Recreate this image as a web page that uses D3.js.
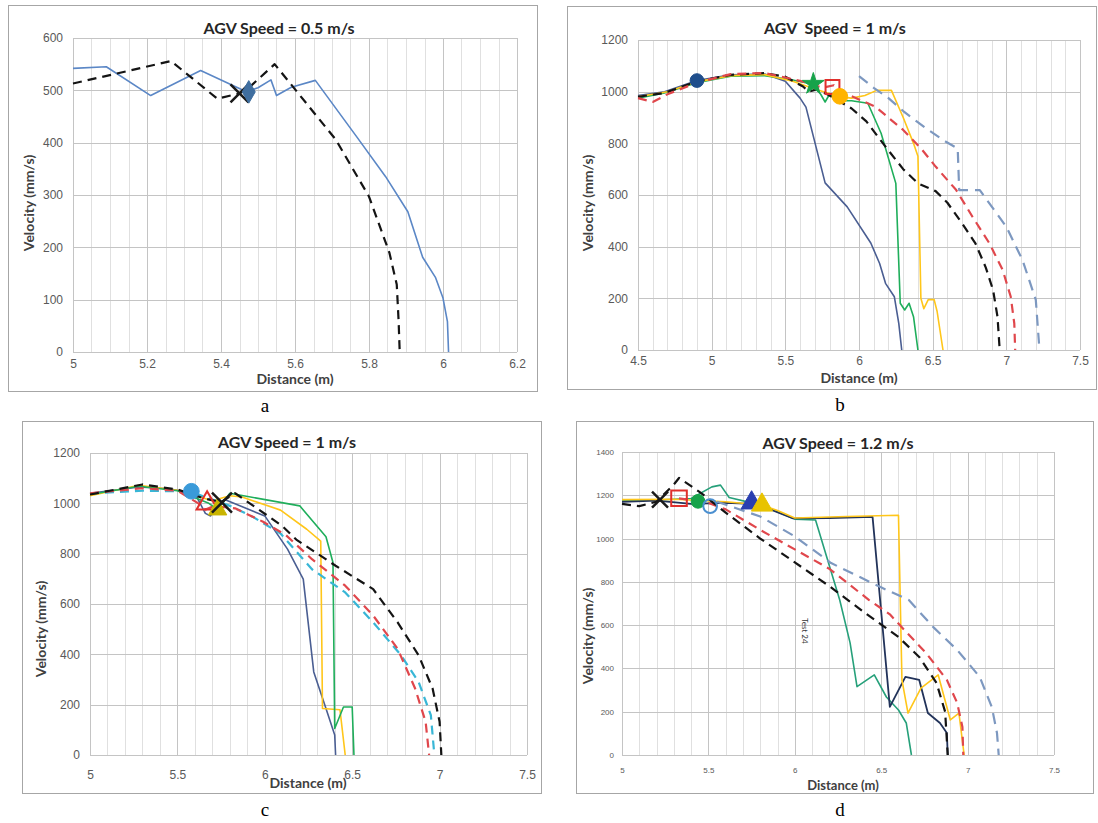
<!DOCTYPE html>
<html>
<head>
<meta charset="utf-8">
<script src="https://cdn.jsdelivr.net/npm/d3@7"></script>
<style>
  body { margin: 0; background: #fff; }
  svg { display: block; font-family: Lato, "Open Sans", sans-serif; }
  .title { font-weight: bold; fill: #262626; white-space: pre; }
  .axtitle { font-weight: bold; fill: #404040; }
  .tick text { fill: #595959; }
  .sub { font-family: "Liberation Serif", "DejaVu Serif", serif; fill: #000; }
</style>
</head>
<body>
<svg id="fig" width="1098" height="823"></svg>
<script>
// ---- panel a : AGV speed 0.5 m/s ----
const aTicksX = [5, 5.2, 5.4, 5.6, 5.8, 6, 6.2];
const aTicksY = [0, 100, 200, 300, 400, 500, 600];
const aBlue  = [[5.0,542],[5.09,545],[5.21,490],[5.345,538],[5.47,497],[5.50,505],[5.535,520],[5.55,490],[5.59,506],[5.655,519],[5.765,413],[5.845,335],[5.905,268],[5.945,181],[5.98,142],[6.0,103],[6.012,58],[6.015,0]];
const aBlack = [[5.0,513],[5.265,556],[5.39,484],[5.45,494],[5.48,508],[5.545,550],[5.71,406],[5.8,297],[5.855,190],[5.875,129],[5.88,60],[5.883,0]];
const aMarks = [[5.45,494],[5.475,497]];

// ---- panel b : AGV speed 1 m/s ----
const bTicksX = [4.5, 5, 5.5, 6, 6.5, 7, 7.5];
const bTicksY = [0, 200, 400, 600, 800, 1000, 1200];
const bNavy   = [[4.5,985],[4.68,1000],[4.9,1043],[5.13,1065],[5.36,1068],[5.5,1040],[5.6,975],[5.64,940],[5.77,647],[5.92,554],[6.08,414],[6.14,335],[6.18,258],[6.24,206],[6.27,103],[6.29,0]];
const bGreen  = [[4.5,975],[4.68,995],[4.9,1035],[5.13,1060],[5.36,1062],[5.55,1045],[5.68,1030],[5.74,990],[5.77,960],[5.8,990],[5.86,965],[5.95,965],[6.06,955],[6.15,839],[6.25,645],[6.28,181],[6.31,155],[6.34,181],[6.37,129],[6.40,0]];
const bYellow = [[4.5,980],[4.7,1000],[4.9,1038],[5.13,1062],[5.36,1066],[5.55,1040],[5.7,1010],[5.87,980],[5.95,975],[6.04,985],[6.12,1005],[6.22,1005],[6.3,900],[6.37,800],[6.4,750],[6.42,200],[6.44,160],[6.47,195],[6.51,195],[6.53,150],[6.57,0]];
const bBlack  = [[4.5,980],[4.68,995],[4.9,1040],[5.13,1065],[5.36,1072],[5.5,1058],[5.62,1020],[5.66,1000],[5.72,1010],[5.8,985],[5.95,935],[6.05,885],[6.18,787],[6.3,700],[6.4,645],[6.52,615],[6.6,570],[6.7,490],[6.79,413],[6.86,320],[6.91,232],[6.94,129],[6.955,0]];
const bRed    = [[4.5,975],[4.6,960],[4.7,990],[4.9,1035],[5.13,1068],[5.36,1072],[5.5,1055],[5.65,1035],[5.75,1015],[5.83,1025],[5.9,995],[6.0,970],[6.11,942],[6.3,852],[6.43,774],[6.52,710],[6.66,619],[6.77,516],[6.885,413],[6.975,310],[7.03,206],[7.054,103],[7.06,0]];
const bSteel  = [[6.0,1060],[6.1,1015],[6.2,975],[6.3,925],[6.45,860],[6.59,806],[6.67,780],[6.68,619],[6.82,619],[7.0,477],[7.11,348],[7.2,194],[7.225,0]];
const bMarks  = [[4.9,1043],[5.69,1030],[5.82,1018],[5.87,982]];

// ---- panel c : AGV speed 1 m/s ----
const cTicksX = [5, 5.5, 6, 6.5, 7, 7.5];
const cTicksY = [0, 200, 400, 600, 800, 1000, 1200];
const cNavy   = [[5.0,1040],[5.28,1065],[5.45,1058],[5.6,1040],[5.66,960],[5.69,950],[5.72,990],[5.77,1015],[6.0,950],[6.13,818],[6.22,699],[6.28,330],[6.35,185],[6.4,79],[6.405,0]];
const cYellow = [[5.0,1030],[5.28,1072],[5.5,1052],[5.7,1010],[5.8,1030],[5.87,1025],[6.09,973],[6.24,897],[6.32,850],[6.33,185],[6.43,180],[6.46,0]];
const cGreen  = [[5.0,1035],[5.28,1068],[5.5,1050],[5.68,1000],[5.73,975],[5.8,1040],[6.2,990],[6.35,867],[6.39,765],[6.40,105],[6.45,191],[6.5,191],[6.51,0]];
const cBlack  = [[5.0,1035],[5.3,1075],[5.5,1055],[5.65,1020],[5.75,1005],[5.83,1040],[5.97,973],[6.1,910],[6.18,856],[6.405,752],[6.62,659],[6.76,527],[6.88,396],[6.96,264],[7.0,132],[7.01,0]];
const cRed    = [[5.0,1040],[5.3,1060],[5.5,1050],[5.62,1000],[5.66,975],[5.71,989],[5.83,980],[5.99,927],[6.12,874],[6.27,778],[6.46,673],[6.62,554],[6.76,422],[6.86,264],[6.92,132],[6.94,0]];
const cCyan   = [[5.0,1040],[5.3,1050],[5.5,1048],[5.6,1040],[5.8,990],[5.93,947],[6.09,880],[6.27,738],[6.46,646],[6.62,527],[6.78,396],[6.88,290],[6.95,158],[6.97,0]];
const cMarks  = [[5.58,1048],[5.67,1000],[5.73,975],[5.755,1003]];

// ---- panel d : AGV speed 1.2 m/s ----
const dTicksX = [5, 5.5, 6, 6.5, 7, 7.5];
const dTicksY = [0, 200, 400, 600, 800, 1000, 1200, 1400];
const dNavy   = [[5.0,1170],[5.2,1175],[5.4,1160],[5.6,1165],[5.75,1160],[5.84,1140],[5.99,1093],[6.2,1095],[6.45,1100],[6.55,222],[6.64,361],[6.72,347],[6.77,194],[6.84,148],[6.88,102],[6.885,0]];
const dYellow = [[5.0,1180],[5.3,1182],[5.6,1170],[5.81,1155],[5.9,1130],[6.0,1095],[6.3,1102],[6.6,1108],[6.62,347],[6.655,193],[6.73,309],[6.83,370],[6.9,162],[6.95,193],[6.98,0]];
const dTeal   = [[5.0,1175],[5.2,1178],[5.4,1185],[5.52,1239],[5.57,1247],[5.62,1190],[5.75,1165],[5.85,1140],[6.0,1090],[6.12,1086],[6.26,716],[6.32,518],[6.36,316],[6.46,370],[6.53,268],[6.6,208],[6.645,148],[6.675,0]];
const dBlack  = [[5.0,1160],[5.1,1150],[5.2,1170],[5.3,1250],[5.33,1280],[5.45,1215],[5.6,1120],[5.8,1000],[6.0,890],[6.2,780],[6.4,660],[6.6,545],[6.72,453],[6.82,333],[6.87,200],[6.885,0]];
const dRed    = [[5.33,1186],[5.5,1165],[5.6,1135],[5.8,1040],[6.0,950],[6.2,860],[6.43,716],[6.55,650],[6.65,564],[6.76,471],[6.88,347],[6.94,240],[6.97,129],[6.975,0]];
const dSteel  = [[5.55,1170],[5.8,1102],[6.0,1010],[6.21,887],[6.49,778],[6.66,716],[6.8,592],[6.94,485],[7.07,361],[7.14,222],[7.17,102],[7.18,0]];
const dMarks  = [[5.22,1180],[5.33,1186],[5.44,1172],[5.51,1150],[5.75,1165],[5.81,1155]];

// line looks
const looks = {
  blueA:  { stroke: "#5b87c6", w: 1.6, dash: null },
  navy:   { stroke: "#4a5e92", w: 1.6, dash: null },
  navyD:  { stroke: "#22335a", w: 1.8, dash: null },
  green:  { stroke: "#1fae5b", w: 1.6, dash: null },
  teal:   { stroke: "#26a07a", w: 1.6, dash: null },
  yellow: { stroke: "#ffc61a", w: 1.6, dash: null },
  black:  { stroke: "#141414", w: 2.2, dash: "9,6" },
  red:    { stroke: "#e0474c", w: 2.2, dash: "9,6" },
  steel:  { stroke: "#7d98c0", w: 2.2, dash: "11,7" },
  cyan:   { stroke: "#38b6d6", w: 2.2, dash: "9,6" }
};

const svg = d3.select("#fig");

const panels = [
  { frame: [8, 5, 537, 391], xDom: [5, 6.2], xR: [73, 517], yDom: [0, 600], yR: [352, 38],
    xTicks: aTicksX, yTicks: aTicksY, xMinor: 0.05, fs: 12, xfs: 14,
    title: "AGV Speed = 0.5 m/s", tX: 279, tY: 34,
    yTitle: [29, 203], xTitle: [295, 384], xLabY: 368, sub: ["a", 265, 412],
    series: [[aBlue, "blueA"], [aBlack, "black"]],
    marks: [["x", "#1a1a1a", 9], ["diamond", "#3f6e9f", 7]].map((m, i) => [aMarks[i], ...m]) },
  { frame: [567, 6, 1096, 389], xDom: [4.5, 7.5], xR: [638, 1080], yDom: [0, 1200], yR: [350, 40],
    xTicks: bTicksX, yTicks: bTicksY, xMinor: 0.1, fs: 12, xfs: 14,
    title: "AGV  Speed = 1 m/s", tX: 835, tY: 34,
    yTitle: [588, 203], xTitle: [859, 383], xLabY: 365, sub: ["b", 840, 411],
    series: [[bNavy, "navy"], [bGreen, "green"], [bYellow, "yellow"], [bBlack, "black"], [bRed, "red"], [bSteel, "steel"]],
    marks: [["circle", "#1f4e8c", 7], ["star", "#17a34a", 7], ["square", "#e0302c", 8], ["circle", "#ffb300", 8]].map((m, i) => [bMarks[i], ...m]) },
  { frame: [22, 421, 541, 793], xDom: [5, 7.5], xR: [90, 527], yDom: [0, 1200], yR: [755, 453],
    xTicks: cTicksX, yTicks: cTicksY, xMinor: 0.1, fs: 12, xfs: 14,
    title: "AGV Speed = 1 m/s", tX: 287, tY: 448,
    yTitle: [41, 629], xTitle: [308, 788], xLabY: 779, sub: ["c", 265, 816],
    series: [[cNavy, "navy"], [cYellow, "yellow"], [cGreen, "green"], [cCyan, "cyan"], [cRed, "red"], [cBlack, "black"]],
    marks: [["circle", "#3a9ad9", 8], ["tri", "#e0302c", 8], ["triF", "#c9b400", 7], ["x", "#1a1a1a", 10]].map((m, i) => [cMarks[i], ...m]) },
  { frame: [576, 421, 1093, 793], xDom: [5, 7.5], xR: [622, 1054], yDom: [0, 1400], yR: [755, 452],
    xTicks: dTicksX, yTicks: dTicksY, xMinor: 0.1, fs: 8, xfs: 13,
    title: "AGV Speed = 1.2 m/s", tX: 838, tY: 449,
    yTitle: [588, 636], xTitle: [843, 790], xLabY: 773, sub: ["d", 840, 816],
    series: [[dTeal, "teal"], [dNavy, "navyD"], [dYellow, "yellow"], [dSteel, "steel"], [dRed, "red"], [dBlack, "black"]],
    marks: [["x", "#1a1a1a", 8], ["square", "#e0302c", 9], ["circle", "#17a34a", 7], ["circleO", "#4a8fd0", 7], ["triF", "#2a3fb0", 8], ["triF", "#e8c300", 8]].map((m, i) => [dMarks[i], ...m]) }
];

function drawMark(g, px, py, shape, color, s) {
  if (shape === "x") {
    g.append("path").attr("d", `M${px-s},${py-s}L${px+s},${py+s}M${px-s},${py+s}L${px+s},${py-s}`)
      .attr("stroke", color).attr("stroke-width", 2.5).attr("fill", "none");
    return;
  }
  const kinds = { circle: d3.symbolCircle, circleO: d3.symbolCircle, square: d3.symbolSquare,
                  star: d3.symbolStar, diamond: d3.symbolDiamond, tri: d3.symbolTriangle, triF: d3.symbolTriangle };
  const open = shape === "square" || shape === "tri" || shape === "circleO";
  g.append("path").attr("transform", `translate(${px},${py})`)
    .attr("d", d3.symbol().type(kinds[shape]).size(s * s * 3)())
    .attr("fill", open ? "none" : color).attr("stroke", color).attr("stroke-width", open ? 2 : 1);
}

panels.forEach(p => {
  const g = svg.append("g");
  const [fx0, fy0, fx1, fy1] = p.frame;
  g.append("rect").attr("x", fx0 + 0.5).attr("y", fy0 + 0.5).attr("width", fx1 - fx0).attr("height", fy1 - fy0)
    .attr("fill", "#fff").attr("stroke", "#a6a6a6");

  const x = d3.scaleLinear().domain(p.xDom).range(p.xR);
  const y = d3.scaleLinear().domain(p.yDom).range(p.yR);

  // minor + major vertical grid, major horizontal grid
  const minor = d3.range(p.xDom[0], p.xDom[1] + 1e-9, p.xMinor);
  g.append("g").selectAll("line").data(minor).join("line")
    .attr("x1", d => Math.round(x(d)) + 0.5).attr("x2", d => Math.round(x(d)) + 0.5)
    .attr("y1", p.yR[1]).attr("y2", p.yR[0]).attr("stroke", "#e0e0e0");
  g.append("g").selectAll("line").data(p.xTicks).join("line")
    .attr("x1", d => Math.round(x(d)) + 0.5).attr("x2", d => Math.round(x(d)) + 0.5)
    .attr("y1", p.yR[1]).attr("y2", p.yR[0]).attr("stroke", "#c4c4c4");
  g.append("g").selectAll("line").data(p.yTicks).join("line")
    .attr("x1", p.xR[0]).attr("x2", p.xR[1])
    .attr("y1", d => Math.round(y(d)) + 0.5).attr("y2", d => Math.round(y(d)) + 0.5)
    .attr("stroke", "#c4c4c4");

  // tick labels
  const ya = g.append("g").attr("transform", `translate(${p.xR[0]},0)`)
    .call(d3.axisLeft(y).tickValues(p.yTicks).tickSize(0).tickPadding(p.fs > 10 ? 10 : 8).tickFormat(d3.format("")));
  ya.select(".domain").remove();
  ya.selectAll("text").attr("font-size", p.fs).attr("font-family", null);
  const xa = g.append("g").attr("transform", `translate(0,${p.xLabY})`)
    .call(d3.axisBottom(x).tickValues(p.xTicks).tickSize(0).tickPadding(0).tickFormat(d3.format("")));
  xa.select(".domain").remove();
  xa.selectAll("text").attr("font-size", p.fs).attr("font-family", null).attr("dy", 0);

  // series
  const line = d3.line().x(d => x(d[0])).y(d => y(d[1]));
  p.series.forEach(([data, key]) => {
    const lk = looks[key];
    g.append("path").datum(data).attr("d", line).attr("fill", "none")
      .attr("stroke", lk.stroke).attr("stroke-width", lk.w)
      .attr("stroke-dasharray", lk.dash).attr("stroke-linejoin", "round");
  });
  p.marks.forEach(([pt, shape, color, s]) => drawMark(g, x(pt[0]), y(pt[1]), shape, color, s));

  // texts
  g.append("text").attr("class", "title").attr("x", p.tX).attr("y", p.tY)
    .attr("text-anchor", "middle").attr("font-size", 16).text(p.title);
  g.append("text").attr("class", "axtitle").attr("text-anchor", "middle").attr("font-size", 14)
    .attr("transform", `translate(${p.yTitle[0] + 5},${p.yTitle[1]}) rotate(-90)`).text("Velocity (mm/s)");
  g.append("text").attr("class", "axtitle").attr("text-anchor", "middle").attr("font-size", p.xfs)
    .attr("x", p.xTitle[0]).attr("y", p.xTitle[1]).text("Distance (m)");
  svg.append("text").attr("class", "sub").attr("x", p.sub[1]).attr("y", p.sub[2])
    .attr("text-anchor", "middle").attr("font-size", 19).text(p.sub[0]);
});

// stray rotated label inside panel d
svg.append("text").attr("transform", "translate(802,618) rotate(90)")
  .attr("font-size", 8).attr("fill", "#333").text("Test 24");
</script>
</body>
</html>
